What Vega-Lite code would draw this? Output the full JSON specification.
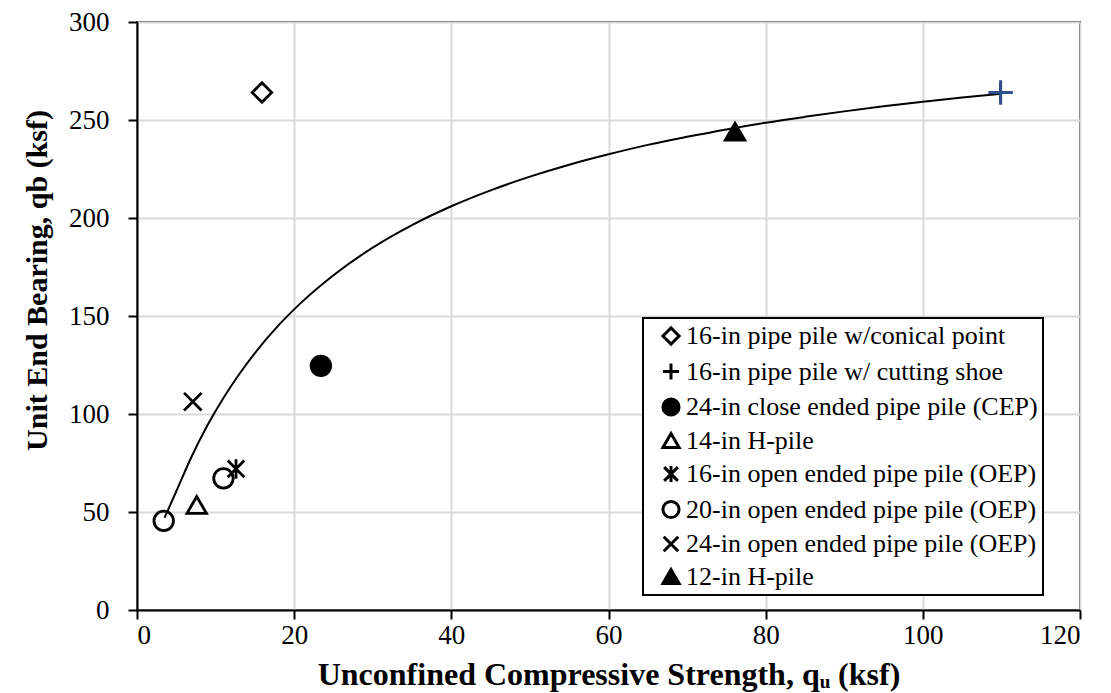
{
  "$schema": "https://vega.github.io/schema/vega-lite/v6.json",
  "width": 943,
  "height": 588,
  "autosize": {"type": "none"},
  "padding": {"left": 137, "top": 22, "right": 31, "bottom": 83},
  "background": "white",
  "datasets": {
    "pts": [
      {"series": "16-in pipe pile w/conical point", "qu": 15.9, "qb": 264},
      {"series": " 16-in pipe pile w/ cutting shoe", "qu": 109.9, "qb": 264},
      {"series": "24-in close ended pipe pile (CEP)", "qu": 23.4, "qb": 124.6},
      {"series": "14-in H-pile", "qu": 7.6, "qb": 53.6},
      {"series": "16-in open ended pipe pile (OEP)", "qu": 12.6, "qb": 72},
      {"series": "20-in open ended pipe pile (OEP)", "qu": 11.0, "qb": 67.2},
      {"series": "20-in open ended pipe pile (OEP)", "qu": 3.4, "qb": 45.5},
      {"series": "24-in open ended pipe pile (OEP)", "qu": 7.1, "qb": 106.3},
      {"series": "12-in H-pile", "qu": 76.1, "qb": 244}
    ],
    "fit": [
      {"qu": 3.5, "qb": 47},
      {"qu": 5, "qb": 60.6},
      {"qu": 7, "qb": 78.7},
      {"qu": 9, "qb": 94.5},
      {"qu": 11, "qb": 108.2},
      {"qu": 13, "qb": 120.3},
      {"qu": 15, "qb": 131.1},
      {"qu": 18, "qb": 145.2},
      {"qu": 21, "qb": 157.2},
      {"qu": 25, "qb": 170.8},
      {"qu": 30, "qb": 184.9},
      {"qu": 35, "qb": 196.4},
      {"qu": 40, "qb": 206.0},
      {"qu": 45, "qb": 214.1},
      {"qu": 50, "qb": 221.1},
      {"qu": 55, "qb": 227.2},
      {"qu": 60, "qb": 232.5},
      {"qu": 65, "qb": 237.3},
      {"qu": 70, "qb": 241.4},
      {"qu": 75, "qb": 245.2},
      {"qu": 80, "qb": 248.6},
      {"qu": 85, "qb": 251.6},
      {"qu": 90, "qb": 254.4},
      {"qu": 95, "qb": 257.0},
      {"qu": 100, "qb": 259.3},
      {"qu": 105, "qb": 261.5},
      {"qu": 110, "qb": 263.4}
    ],
    "blue": [
      {"qu": 109.9, "qb": 264}
    ]
  },
  "layer": [
    {
      "data": {"name": "fit"},
      "mark": {"type": "line", "color": "black", "strokeWidth": 2, "interpolate": "monotone"},
      "encoding": {
        "x": {
          "field": "qu", "type": "quantitative",
          "scale": {"domain": [0, 120], "nice": false, "zero": true},
          "axis": {"values": [0, 20, 40, 60, 80, 100, 120], "title": "Unconfined Compressive Strength, qᵤ (ksf)", "titleFontSize": 32, "titlePadding": 11, "labelPadding": 3}
        },
        "y": {
          "field": "qb", "type": "quantitative",
          "scale": {"domain": [0, 300], "nice": false},
          "axis": {"values": [0, 50, 100, 150, 200, 250, 300], "title": "Unit End Bearing, qb (ksf)", "titleFontSize": 30, "titlePadding": 16, "labelPadding": 19, "titleY": 258}
        }
      }
    },
    {
      "data": {"name": "pts"},
      "mark": {"type": "point", "filled": true, "strokeWidth": 2.8, "size": 380, "opacity": 1, "strokeOpacity": 1, "fillOpacity": 1},
      "encoding": {
        "x": {"field": "qu", "type": "quantitative"},
        "y": {"field": "qb", "type": "quantitative"},
        "shape": {
          "field": "series", "type": "nominal",
          "scale": {
            "domain": ["16-in pipe pile w/conical point", " 16-in pipe pile w/ cutting shoe", "24-in close ended pipe pile (CEP)", "14-in H-pile", "16-in open ended pipe pile (OEP)", "20-in open ended pipe pile (OEP)", "24-in open ended pipe pile (OEP)", "12-in H-pile"],
            "range": ["diamond", "M-1,0L1,0M0,-1L0,1", "circle", "triangle-up", "M-0.85,-0.85L0.85,0.85M-0.85,0.85L0.85,-0.85M0,-1L0,1", "circle", "M-0.9,-0.9L0.9,0.9M-0.9,0.9L0.9,-0.9", "triangle-up"]
          },
          "legend": {"title": null}
        },
        "fill": {
          "field": "series", "type": "nominal",
          "scale": {
            "domain": ["16-in pipe pile w/conical point", " 16-in pipe pile w/ cutting shoe", "24-in close ended pipe pile (CEP)", "14-in H-pile", "16-in open ended pipe pile (OEP)", "20-in open ended pipe pile (OEP)", "24-in open ended pipe pile (OEP)", "12-in H-pile"],
            "range": ["transparent", "transparent", "black", "transparent", "transparent", "transparent", "transparent", "black"]
          },
          "legend": {"title": null}
        },
        "stroke": {
          "field": "series", "type": "nominal",
          "scale": {
            "domain": ["16-in pipe pile w/conical point", " 16-in pipe pile w/ cutting shoe", "24-in close ended pipe pile (CEP)", "14-in H-pile", "16-in open ended pipe pile (OEP)", "20-in open ended pipe pile (OEP)", "24-in open ended pipe pile (OEP)", "12-in H-pile"],
            "range": ["black", "black", "black", "black", "black", "black", "black", "black"]
          },
          "legend": {"title": null}
        }
      }
    },
    {
      "data": {"name": "blue"},
      "mark": {"type": "point", "shape": "M-1,0L1,0M0,-1L0,1", "stroke": "#2f4f8f", "strokeWidth": 3, "size": 600, "opacity": 1},
      "encoding": {
        "x": {"field": "qu", "type": "quantitative"},
        "y": {"field": "qb", "type": "quantitative"}
      }
    }
  ],
  "config": {
    "font": "Liberation Serif",
    "view": {"stroke": "#404040", "strokeWidth": 2},
    "axis": {
      "domainColor": "black", "domainWidth": 2,
      "tickColor": "black", "tickWidth": 2, "tickSize": 9,
      "gridColor": "#d9d9d9", "gridWidth": 2,
      "labelFont": "Liberation Serif", "labelFontSize": 27, "labelColor": "black",
      "titleFont": "Liberation Serif", "titleFontWeight": "bold", "titleColor": "black"
    },
    "legend": {
      "orient": "none",
      "legendX": 506,
      "legendY": 296,
      "strokeColor": "black",
      "strokeWidth": 2,
      "fillColor": "white",
      "padding": 5,
      "symbolOffset": 10,
      "rowPadding": 5.5,
      "labelFont": "Liberation Serif",
      "labelFontSize": 26,
      "labelColor": "black",
      "labelLimit": 600,
      "labelOffset": 2,
      "symbolSize": 260,
      "symbolStrokeWidth": 3,
      "symbolStrokeColor": "black",
      "columnPadding": 18
    }
  }
}
